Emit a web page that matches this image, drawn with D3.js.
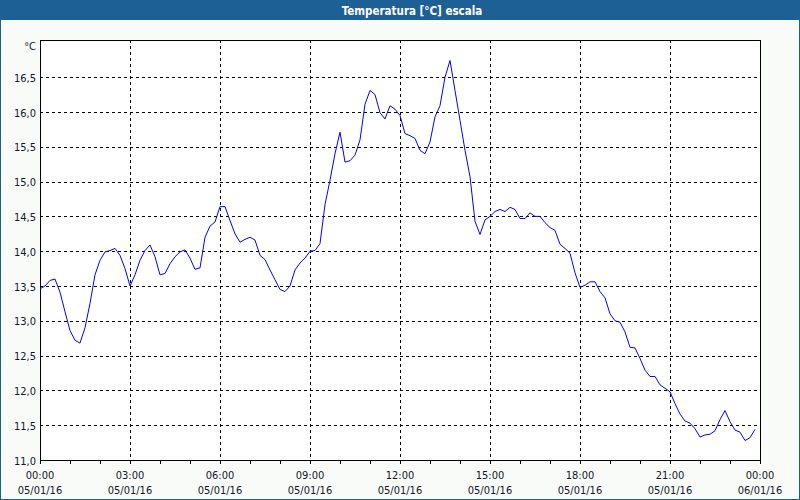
<!DOCTYPE html>
<html>
<head>
<meta charset="utf-8">
<script src="https://cdn.jsdelivr.net/npm/d3@7"></script>
<style>
  html, body { margin: 0; padding: 0; background: #f9fbf9; }
  svg { display: block; }
  text { font-family: "DejaVu Sans Condensed", "DejaVu Sans", sans-serif; }
</style>
</head>
<body>
<svg id="chart" width="800" height="500"></svg>
<script>
// ---- data ----
const title = "Temperatura [°C] escala";
const unitLabel = "°C";
const startTime = "2016-01-05T00:00:00Z";
const endTime = "2016-01-06T00:00:00Z";
const stepMinutes = 10;
// temperature readings every 10 minutes from 00:00 to 23:50
const temperatures = [
  13.46, 13.50, 13.58, 13.60, 13.41, 13.13, 12.86, 12.72, 12.68, 12.90,
  13.25, 13.66, 13.87, 13.99, 14.01, 14.04, 13.94, 13.75, 13.50, 13.66,
  13.87, 14.01, 14.09, 13.92, 13.66, 13.68, 13.82, 13.92, 13.99, 14.02,
  13.90, 13.74, 13.76, 14.20, 14.36, 14.42, 14.64, 14.64, 14.44, 14.25,
  14.13, 14.17, 14.20, 14.16, 13.94, 13.88, 13.73, 13.59, 13.45, 13.42,
  13.50, 13.73, 13.83, 13.90, 14.00, 14.01, 14.11, 14.67, 15.02, 15.40,
  15.71, 15.28, 15.30, 15.38, 15.60, 16.11, 16.31, 16.25, 15.99, 15.90,
  16.09, 16.04, 15.95, 15.69, 15.66, 15.62, 15.45, 15.40, 15.57, 15.93,
  16.09, 16.50, 16.74, 16.31, 15.88, 15.45, 15.07, 14.43, 14.24, 14.45,
  14.50, 14.57, 14.60, 14.57, 14.63, 14.60, 14.47, 14.47, 14.55, 14.50,
  14.50, 14.41, 14.34, 14.30, 14.10, 14.04, 13.97, 13.69, 13.48, 13.51,
  13.56, 13.56, 13.42, 13.33, 13.10, 13.00, 12.98, 12.84, 12.62, 12.61,
  12.46, 12.29, 12.20, 12.20, 12.08, 12.03, 11.98, 11.81, 11.66, 11.56,
  11.53, 11.45, 11.33, 11.36, 11.37, 11.42, 11.58, 11.71, 11.55, 11.43,
  11.40, 11.28, 11.32, 11.44
];
const yTicks = [11.0, 11.5, 12.0, 12.5, 13.0, 13.5, 14.0, 14.5, 15.0, 15.5, 16.0, 16.5];
const xLabelHours = [0, 3, 6, 9, 12, 15, 18, 21, 24];

// ---- layout ----
(function () {
const svg = d3.select("#chart");
const W = 800, H = 500;
const pL = 40, pR = 760, pT = 40, pB = 460;
const barColor = "#1d6096";

const t0 = new Date(startTime), t1 = new Date(endTime);
const x = d3.scaleUtc().domain([t0, t1]).range([pL, pR]);
const y = d3.scaleLinear().domain([11, 16.5]).range([pB, 77.2]);

const data = temperatures.map((v, i) => ({ t: new Date(t0.getTime() + i * stepMinutes * 60000), v }));

// background
svg.append("rect").attr("x", 0).attr("y", 0).attr("width", W).attr("height", H).attr("fill", "#f9fbf9");
// outer border
svg.append("rect").attr("x", 0.5).attr("y", 0.5).attr("width", W - 1).attr("height", H - 1)
  .attr("fill", "none").attr("stroke", barColor).attr("stroke-width", 1);
// title bar
svg.append("rect").attr("x", 0).attr("y", 0).attr("width", W).attr("height", 20).attr("fill", barColor);
svg.append("text").attr("x", 412).attr("y", 14.5).attr("text-anchor", "middle")
  .attr("fill", "#ffffff").attr("font-weight", "bold").attr("font-size", "11.5px").text(title);

// plot area
svg.append("rect").attr("x", pL).attr("y", pT).attr("width", pR - pL).attr("height", pB - pT)
  .attr("fill", "#ffffff");

// horizontal grid
const g = svg.append("g").attr("shape-rendering", "crispEdges");
g.selectAll("line.hg").data(yTicks.filter(d => d > 11)).enter().append("line")
  .attr("x1", pL).attr("x2", pR)
  .attr("y1", d => Math.round(y(d)) + 0.5).attr("y2", d => Math.round(y(d)) + 0.5)
  .attr("stroke", "#000").attr("stroke-dasharray", "3,3");
// vertical grid
const vHours = xLabelHours.filter(h => h > 0 && h < 24);
g.selectAll("line.vg").data(vHours).enter().append("line")
  .attr("x1", h => Math.round(x(d3.utcHour.offset(t0, h))) + 0.5)
  .attr("x2", h => Math.round(x(d3.utcHour.offset(t0, h))) + 0.5)
  .attr("y1", pT).attr("y2", pB)
  .attr("stroke", "#000").attr("stroke-dasharray", "3,3");

// frame
svg.append("rect").attr("x", pL + 0.5).attr("y", pT + 0.5).attr("width", pR - pL).attr("height", pB - pT)
  .attr("fill", "none").attr("stroke", "#000").attr("shape-rendering", "crispEdges");

// x axis ticks (every hour)
const xAxis = d3.axisBottom(x).ticks(d3.utcHour.every(1)).tickSize(4).tickFormat("");
const xa = svg.append("g").attr("transform", `translate(0,${pB})`).call(xAxis);
xa.select(".domain").remove();
xa.selectAll("line").attr("stroke", "#000").attr("shape-rendering", "crispEdges");

// x labels
const fTime = d3.utcFormat("%H:%M"), fDate = d3.utcFormat("%d/%m/%y");
const lab = svg.append("g").attr("font-size", "11px").attr("fill", "#101828").attr("text-anchor", "middle");
xLabelHours.forEach(h => {
  const d = d3.utcHour.offset(t0, h);
  lab.append("text").attr("x", x(d)).attr("y", 479).text(fTime(d));
  lab.append("text").attr("x", x(d)).attr("y", 494).text(fDate(d));
});

// y labels
const yl = svg.append("g").attr("font-size", "11px").attr("fill", "#101828").attr("text-anchor", "end");
yTicks.forEach(v => {
  yl.append("text").attr("x", 36).attr("y", y(v) + 4.5).text(v.toFixed(1).replace(".", ","));
});
yl.append("text").attr("x", 36).attr("y", 50).text(unitLabel);

// line
const line = d3.line().x(d => x(d.t)).y(d => y(d.v));
svg.append("path").datum(data).attr("d", line)
  .attr("fill", "none").attr("stroke", "#0000ff").attr("stroke-width", 1);
})();
</script>
</body>
</html>
